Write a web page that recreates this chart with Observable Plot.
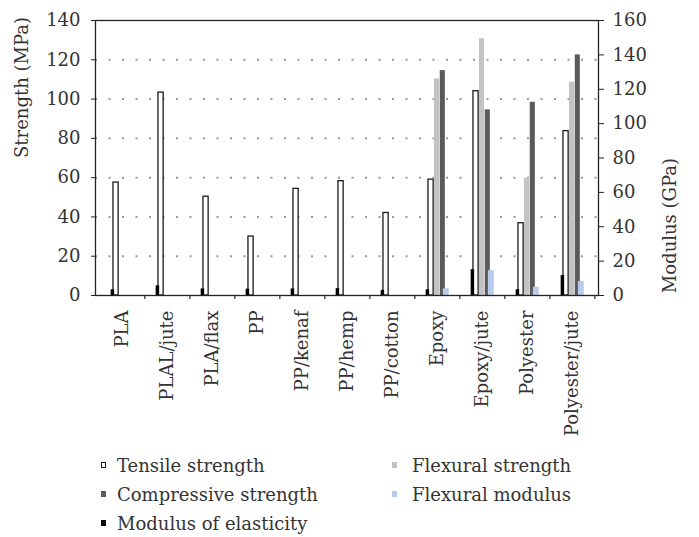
<!DOCTYPE html>
<html><head><meta charset="utf-8">
<script src="https://cdn.jsdelivr.net/npm/d3@7"></script>
<script src="https://cdn.jsdelivr.net/npm/@observablehq/plot@0.6"></script>
<style>
body{margin:0;background:#fff;}
#chart{position:relative;width:699px;height:537px;font-family:"DejaVu Serif",serif;color:#333;}
#chart svg{position:absolute;left:0;top:0;}
.leg{position:absolute;font-size:18px;line-height:20px;white-space:nowrap;color:#333;}
.sw{position:absolute;width:5px;height:6px;box-sizing:border-box;}
</style></head><body><div id="chart"></div>
<script>
const categories = ["PLA","PLAL/jute","PLA/flax","PP","PP/kenaf","PP/hemp","PP/cotton","Epoxy","Epoxy/jute","Polyester","Polyester/jute"];
// strengths (MPa, left axis)
const tensileStrength     = [57.5, 103.3, 50.3, 30, 54.3, 58.2, 42, 59, 104, 36.8, 83.7];
const flexuralStrength    = [null, null, null, null, null, null, null, 110.3, 130.7, 59.7, 108.6];
const compressiveStrength = [null, null, null, null, null, null, null, 114.5, 94.5, 98.4, 122.5];
// moduli (GPa, right axis)
const modulusOfElasticity = [3.3, 5.6, 3.8, 3.7, 3.8, 4, 3, 3.3, 15, 3.3, 11.6];
const flexuralModulus     = [null, null, null, null, null, null, null, 3.9, 14.5, 4.8, 8.1];
// ticks
const strengthTicks = [0, 20, 40, 60, 80, 100, 120, 140];
const gridTicks = [20, 40, 60, 80, 100, 120];
const modulusTicks = [0, 20, 40, 60, 80, 100, 120, 140, 160];
const seriesNames = ["Tensile strength", "Flexural strength", "Compressive strength", "Modulus of elasticity", "Flexural modulus"];

const W = 699, H = 440, mL = 95, mR = 101, mT = 20, mB = 145;
const bw = (W - mL - mR) / categories.length;
const sMax = 140, gMax = 160;
const toS = g => g * sMax / gMax;

const seriesData = [
  {name: seriesNames[0], values: tensileStrength, conv: v => v},
  {name: seriesNames[1], values: flexuralStrength, conv: v => v},
  {name: seriesNames[2], values: compressiveStrength, conv: v => v},
  {name: seriesNames[3], values: modulusOfElasticity, conv: toS},
  {name: seriesNames[4], values: flexuralModulus, conv: toS}
];
// styles: bar offsets (px from band centre) and colours
const styles = {
  "Tensile strength":      {a: -8.9, b: -3.0, fill: "#ffffff", stroke: "#1a1a1a", sw: 1.3},
  "Flexural strength":     {a: -2.9, b: 2.9, fill: "#c3c3c3", stroke: "none", sw: 0},
  "Compressive strength":  {a: 2.9, b: 8.7, fill: "#5a5a5a", stroke: "none", sw: 0},
  "Modulus of elasticity": {a: -11.2, b: -7.0, fill: "#000000", stroke: "none", sw: 0},
  "Flexural modulus":      {a: 6.0, b: 12.6, fill: "#b8cbea", stroke: "none", sw: 0}
};

const barMarks = seriesData.map(s => {
  const st = styles[s.name];
  const rows = categories.map((c, i) => ({cat: c, v: s.values[i] == null ? null : s.conv(s.values[i])})).filter(r => r.v != null);
  return Plot.barY(rows, {
    x: "cat", y: "v", fill: st.fill, stroke: st.stroke, strokeWidth: st.sw,
    insetLeft: bw / 2 + st.a, insetRight: bw / 2 - st.b
  });
});

const plot = Plot.plot({
  width: W, height: H,
  marginLeft: mL, marginRight: mR, marginTop: mT, marginBottom: mB,
  style: {fontFamily: "DejaVu Serif, serif", fontSize: "18px", color: "#333", background: "transparent"},
  x: {domain: categories, padding: 0},
  y: {domain: [0, sMax]},
  marks: [
    Plot.ruleY(gridTicks, {y: d => d, stroke: "#999999", strokeWidth: 2, strokeDasharray: "2,11.5"}),
    ...barMarks,
    Plot.frame({stroke: "#222", strokeWidth: 1.3}),
    Plot.axisY(strengthTicks, {anchor: "left", tickSize: 4, tickPadding: 11, label: null, stroke: "#222"}),
    Plot.axisY(modulusTicks.map(toS), {anchor: "right", tickSize: 5, tickPadding: 9, label: null, stroke: "#222",
      tickFormat: v => String(Math.round(v * gMax / sMax))}),
    Plot.axisX({tickRotate: -90, tickSize: 0, tickPadding: 15, label: null}),
    Plot.ruleX(categories, {x: d => d, dx: bw / 2, y1: 0, y2: 0, insetTop: 0, insetBottom: -4, stroke: "#222", strokeWidth: 1.2}),
    Plot.text(["Strength (MPa)"], {frameAnchor: "left", dx: -73, rotate: -90, fontSize: 18, fill: "#333"}),
    Plot.text(["Modulus (GPa)"], {frameAnchor: "right", dx: 72, rotate: -90, fontSize: 18, fill: "#333"})
  ]
});
const chart = document.getElementById("chart");
chart.appendChild(plot);

// legend (HTML, below the svg)
const legendLayout = [
  {name: seriesNames[0], col: 0, row: 0},
  {name: seriesNames[2], col: 0, row: 1},
  {name: seriesNames[3], col: 0, row: 2},
  {name: seriesNames[1], col: 1, row: 0},
  {name: seriesNames[4], col: 1, row: 1}
];
const colSw = [101, 392], colTx = [117, 412], rowBase = [472, 501, 530];
legendLayout.forEach(l => {
  const st = styles[l.name];
  const sw = document.createElement("div");
  sw.className = "sw";
  sw.style.left = colSw[l.col] + "px";
  sw.style.top = (rowBase[l.row] - 10) + "px";
  sw.style.background = st.fill;
  if (st.stroke !== "none") sw.style.border = "1px solid " + st.stroke;
  chart.appendChild(sw);
  const tx = document.createElement("div");
  tx.className = "leg";
  tx.style.left = colTx[l.col] + "px";
  tx.style.top = (rowBase[l.row] - 16) + "px";
  tx.textContent = l.name;
  chart.appendChild(tx);
});
</script></body></html>
